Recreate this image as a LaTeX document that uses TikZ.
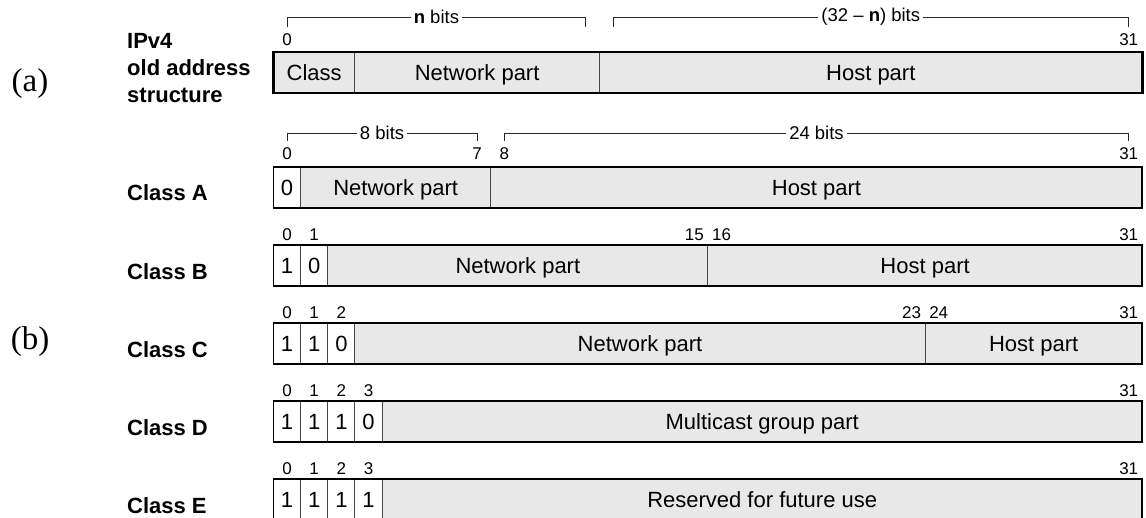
\documentclass[tikz,border=0pt]{standalone}
\usepackage{fontspec}
\setmainfont{Liberation Sans}
\newfontfamily\tagfont{Liberation Serif}
\usepackage{xcolor}
\usepackage{tikz}
\definecolor{fieldfill}{RGB}{232,232,232}
\definecolor{divider}{RGB}{70,70,70}
\definecolor{spanline}{RGB}{40,40,40}

\begin{document}
\begin{tikzpicture}[
      x=1pt,
      y=-1pt,
      cell/.style={
        draw=divider,
        line width=0.9pt,
        fill=white,
        inner sep=0pt,
        outer sep=0pt,
        minimum width=27.15pt,
        minimum height=41pt,
        text height=15.8pt,
        text depth=0pt,
        font=\fontsize{22}{24}\selectfont
      },
      field/.style={cell, fill=fieldfill},
      frame/.style={line width=1.8pt},
      oldframe/.style={line width=2.8pt},
      bitno/.style={inner sep=0pt, font=\fontsize{17}{19}\selectfont},
      span/.style={line width=0.8pt, draw=spanline},
      spanlabel/.style={fill=white, inner sep=3pt, font=\fontsize{18.5}{20}\selectfont},
      rowlabel/.style={anchor=west, align=left, inner sep=0pt,
        font=\bfseries\fontsize{22}{27}\selectfont},
      parttag/.style={inner sep=0pt, font=\tagfont\fontsize{33}{36}\selectfont}
    ]
    \useasboundingbox (0,0) rectangle (1146,518);
    \clip (0,0) rectangle (1146,518);

    % (a) old address structure
    \node[parttag] (taga) at (30,84) {(a)};
    \node[rowlabel] (oldlabel) at (127,68) {IPv4\\old address\\structure};
    \node[field, minimum width=81.45pt] (oldcls) at (314.2,72.5) {Class};
    \node[field, minimum width=244.35pt] (oldnet) at (477.1,72.5) {Network part};
    \node[field, minimum width=543pt] (oldhost) at (870.8,72.5) {Host part};
    \draw[oldframe] (oldcls.north west) rectangle (oldhost.south east);
    \node[bitno] (old0) at (287.1,40) {0};
    \node[bitno] (old31) at (1128.7,40) {31};
    \coordinate (nbl) at (287.1,27);
    \coordinate (nbr) at (585.7,27);
    \coordinate (hbl) at (612.9,27);
    \coordinate (hbr) at (1128.7,27);
    \draw[span] (nbl) -- ++(0,-10) -| node[spanlabel, pos=0.25]
      {\textbf{n} bits} (nbr);
    \draw[span] (hbl) -- ++(0,-10) -| node[spanlabel, pos=0.25]
      {(32 -- \textbf{n}) bits} (hbr);

    % (b) classes
    \node[parttag] (tagb) at (30,342) {(b)};

    \node[rowlabel] (classA) at (127,193) {Class A};
    \node[cell] (a0) at (287.1,187.5) {0};
    \node[field, minimum width=190.05pt] (anet) at (395.7,187.5) {Network part};
    \node[field, minimum width=651.6pt] (ahost) at (816.5,187.5) {Host part};
    \draw[frame] (a0.north west) rectangle (ahost.south east);
    \node[bitno] (anum0) at (287.1,154) {0};
    \node[bitno] (anum7) at (477.1,154) {7};
    \node[bitno] (anum8) at (504.3,154) {8};
    \node[bitno] (anum31) at (1128.7,154) {31};
    \coordinate (abl) at (287.1,141);
    \coordinate (abr) at (477.1,141);
    \coordinate (ahl) at (504.3,141);
    \coordinate (ahr) at (1128.7,141);
    \draw[span] (abl) -- ++(0,-8) -| node[spanlabel, pos=0.25] {8 bits} (abr);
    \draw[span] (ahl) -- ++(0,-8) -| node[spanlabel, pos=0.25] {24 bits} (ahr);

    \node[rowlabel] (classB) at (127,272) {Class B};
    \node[cell] (b0) at (287.1,265.5) {1};
    \node[cell] (b1) at (314.2,265.5) {0};
    \node[field, minimum width=380.1pt] (bnet) at (517.85,265.5) {Network part};
    \node[field, minimum width=434.4pt] (bhost) at (925.1,265.5) {Host part};
    \draw[frame] (b0.north west) rectangle (bhost.south east);
    \node[bitno] (bnum0) at (287.1,235) {0};
    \node[bitno] (bnum1) at (314.2,235) {1};
    \node[bitno] (bnum15) at (694.3,235) {15};
    \node[bitno] (bnum16) at (721.5,235) {16};
    \node[bitno] (bnum31) at (1128.7,235) {31};

    \node[rowlabel] (classC) at (127,350) {Class C};
    \node[cell] (c0) at (287.1,343.5) {1};
    \node[cell] (c1) at (314.2,343.5) {1};
    \node[cell] (c2) at (341.4,343.5) {0};
    \node[field, minimum width=570.15pt] (cnet) at (640.0,343.5) {Network part};
    \node[field, minimum width=217.2pt] (chost) at (1033.7,343.5) {Host part};
    \draw[frame] (c0.north west) rectangle (chost.south east);
    \node[bitno] (cnum0) at (287.1,313) {0};
    \node[bitno] (cnum1) at (314.2,313) {1};
    \node[bitno] (cnum2) at (341.4,313) {2};
    \node[bitno] (cnum23) at (911.5,313) {23};
    \node[bitno] (cnum24) at (938.7,313) {24};
    \node[bitno] (cnum31) at (1128.7,313) {31};

    \node[rowlabel] (classD) at (127,428) {Class D};
    \node[cell] (d0) at (287.1,421.5) {1};
    \node[cell] (d1) at (314.2,421.5) {1};
    \node[cell] (d2) at (341.4,421.5) {1};
    \node[cell] (d3) at (368.5,421.5) {0};
    \node[field, minimum width=760.2pt] (dgroup) at (762.2,421.5)
      {Multicast group part};
    \draw[frame] (d0.north west) rectangle (dgroup.south east);
    \node[bitno] (dnum0) at (287.1,391) {0};
    \node[bitno] (dnum1) at (314.2,391) {1};
    \node[bitno] (dnum2) at (341.4,391) {2};
    \node[bitno] (dnum3) at (368.5,391) {3};
    \node[bitno] (dnum31) at (1128.7,391) {31};

    \node[rowlabel] (classE) at (127,506) {Class E};
    \node[cell] (e0) at (287.1,499.5) {1};
    \node[cell] (e1) at (314.2,499.5) {1};
    \node[cell] (e2) at (341.4,499.5) {1};
    \node[cell] (e3) at (368.5,499.5) {1};
    \node[field, minimum width=760.2pt] (ereserved) at (762.2,499.5)
      {Reserved for future use};
    \draw[frame] (e0.north west) rectangle (ereserved.south east);
    \node[bitno] (enum0) at (287.1,469) {0};
    \node[bitno] (enum1) at (314.2,469) {1};
    \node[bitno] (enum2) at (341.4,469) {2};
    \node[bitno] (enum3) at (368.5,469) {3};
    \node[bitno] (enum31) at (1128.7,469) {31};
  \end{tikzpicture}
\end{document}
